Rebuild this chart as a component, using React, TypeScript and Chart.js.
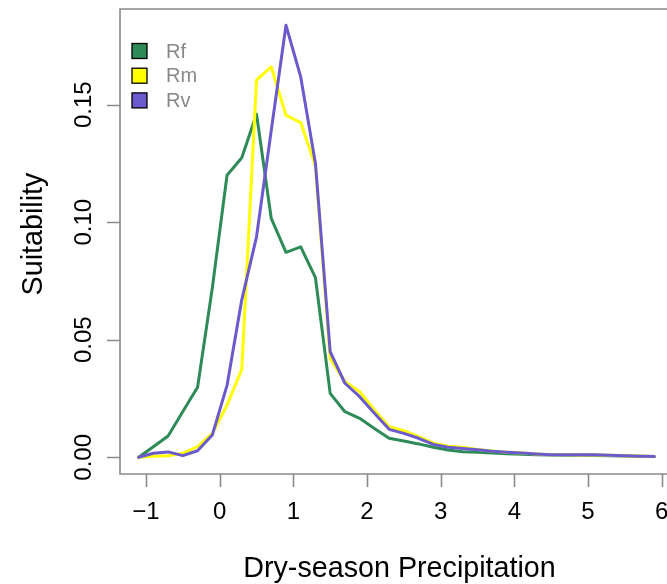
import React, { useEffect, useRef } from "react";
import { Chart, registerables } from "chart.js";

Chart.register(...registerables);

const precipitation = [
  -1.1, -0.9, -0.7, -0.5, -0.3, -0.1, 0.1, 0.3, 0.5, 0.7, 0.9, 1.1, 1.3, 1.5, 1.7, 1.9, 2.1, 2.3,
  2.5, 2.7, 2.9, 3.1, 3.3, 3.5, 3.7, 3.9, 4.1, 4.3, 4.5, 4.7, 4.9, 5.1, 5.3, 5.5, 5.7, 5.9,
];

const rf = [
  0.0, 0.0045, 0.0091, 0.0195, 0.0298, 0.072, 0.12, 0.1274, 0.146, 0.1016, 0.0872, 0.0895, 0.0764,
  0.0272, 0.0194, 0.0166, 0.0123, 0.0081, 0.0069, 0.0057, 0.0043, 0.0031, 0.0024, 0.0021, 0.0018,
  0.0015, 0.0013, 0.0011, 0.001, 0.0009, 0.0009, 0.0008, 0.0007, 0.0006, 0.0005, 0.0003,
];

const rm = [
  0.0, 0.0005, 0.0007, 0.0017, 0.0045, 0.0102, 0.0222, 0.0374, 0.1604, 0.1661, 0.1455, 0.1424,
  0.124, 0.0421, 0.0322, 0.0279, 0.0201, 0.013, 0.0113, 0.0088, 0.006, 0.0047, 0.0043, 0.0033,
  0.0027, 0.0022, 0.0018, 0.0014, 0.0011, 0.0011, 0.001, 0.001, 0.0009, 0.0007, 0.0005, 0.0003,
];

const rv = [
  0.0, 0.0017, 0.0023, 0.0007, 0.0028, 0.0095, 0.0306, 0.067, 0.0938, 0.139, 0.1838, 0.1618,
  0.125, 0.0449, 0.0315, 0.0258, 0.0187, 0.0119, 0.0102, 0.0081, 0.0055, 0.0043, 0.0037, 0.0032,
  0.0026, 0.0022, 0.0018, 0.0014, 0.0011, 0.0011, 0.0011, 0.0011, 0.0009, 0.0007, 0.0005, 0.0003,
];

const seriesNames = ["Rf", "Rm", "Rv"];
const seriesColors = ["#2E8B57", "#FFFF00", "#6A5ACD"];
const seriesValues = [rf, rm, rv];

const xTicks = [-1, 0, 1, 2, 3, 4, 5, 6];
const xTickLabels = ["\u22121", "0", "1", "2", "3", "4", "5", "6"];
const yTicks = [0, 0.05, 0.1, 0.15];
const yTickLabels = ["0.00", "0.05", "0.10", "0.15"];

const xTitle = "Dry-season Precipitation";
const yTitle = "Suitability";

const FONT = '"Liberation Sans", Arial, Helvetica, sans-serif';
const AXIS_GREY = "#8a8a8a";

const rStylePlugin = {
  id: "rStyle",
  afterDraw(chart: any) {
    const { ctx, chartArea: a, scales } = chart;
    const xs = scales.x;
    const ys = scales.y;
    ctx.save();

    // box (right side lies beyond the canvas)
    ctx.strokeStyle = AXIS_GREY;
    ctx.lineWidth = 1.6;
    ctx.beginPath();
    ctx.moveTo(a.right + 5, a.top);
    ctx.lineTo(a.left, a.top);
    ctx.lineTo(a.left, a.bottom);
    ctx.lineTo(a.right + 5, a.bottom);
    ctx.stroke();

    // tick marks
    ctx.beginPath();
    xTicks.forEach((v) => {
      const px = Math.round(xs.getPixelForValue(v)) + 0.5;
      ctx.moveTo(px, a.bottom);
      ctx.lineTo(px, a.bottom + 13);
    });
    yTicks.forEach((v) => {
      const py = Math.round(ys.getPixelForValue(v)) + 0.5;
      ctx.moveTo(a.left, py);
      ctx.lineTo(a.left - 13, py);
    });
    ctx.stroke();

    // tick labels
    ctx.fillStyle = "#000000";
    ctx.font = `24px ${FONT}`;
    ctx.textAlign = "center";
    ctx.textBaseline = "alphabetic";
    xTicks.forEach((v, i) => {
      ctx.fillText(xTickLabels[i], xs.getPixelForValue(v), a.bottom + 44.5);
    });
    yTicks.forEach((v, i) => {
      ctx.save();
      ctx.translate(a.left - 29.5, ys.getPixelForValue(v));
      ctx.rotate(-Math.PI / 2);
      ctx.fillText(yTickLabels[i], 0, 0);
      ctx.restore();
    });

    // axis titles
    ctx.font = `28.7px ${FONT}`;
    ctx.fillText(xTitle, 399.5, 577);
    ctx.save();
    ctx.translate(41.5, 234);
    ctx.rotate(-Math.PI / 2);
    ctx.fillText(yTitle, 0, 0);
    ctx.restore();

    // legend
    ctx.font = `20px ${FONT}`;
    ctx.textAlign = "left";
    ctx.textBaseline = "middle";
    seriesNames.forEach((name, i) => {
      const cy = a.top + 42 + i * 24.7;
      ctx.fillStyle = seriesColors[i];
      ctx.fillRect(a.left + 12, cy - 7.5, 15, 15);
      ctx.strokeStyle = "#000000";
      ctx.lineWidth = 1.3;
      ctx.strokeRect(a.left + 12, cy - 7.5, 15, 15);
      ctx.fillStyle = "#888888";
      ctx.fillText(name, a.left + 46, cy + 1);
    });

    ctx.restore();
  },
};

export default function App() {
  const canvasRef = useRef<HTMLCanvasElement | null>(null);

  useEffect(() => {
    const canvas = canvasRef.current;
    if (!canvas) return;
    const chart = new Chart(canvas, {
      type: "line",
      data: {
        datasets: seriesNames.map((name, i) => ({
          label: name,
          data: precipitation.map((p, j) => ({ x: p, y: seriesValues[i][j] })),
          borderColor: seriesColors[i],
          backgroundColor: seriesColors[i],
          borderWidth: 3,
          pointRadius: 0,
          tension: 0,
          fill: false,
          borderJoinStyle: "round" as const,
          borderCapStyle: "round" as const,
          order: seriesNames.length - i,
        })),
      },
      options: {
        animation: false,
        responsive: false,
        devicePixelRatio: 1,
        layout: { padding: { left: 120, top: 9, right: 0, bottom: 110 } },
        plugins: {
          legend: { display: false },
          tooltip: { enabled: false },
        },
        scales: {
          x: { type: "linear", min: -1.353, max: 6.072, display: false },
          y: { type: "linear", min: -0.0071, max: 0.1907, display: false },
        },
      },
      plugins: [rStylePlugin],
    });
    return () => chart.destroy();
  }, []);

  return (
    <div style={{ position: "absolute", left: 0, top: 0, width: 667, height: 584, overflow: "hidden", background: "#ffffff" }}>
      <canvas ref={canvasRef} width={667} height={584} style={{ display: "block", width: 667, height: 584 }} />
    </div>
  );
}
